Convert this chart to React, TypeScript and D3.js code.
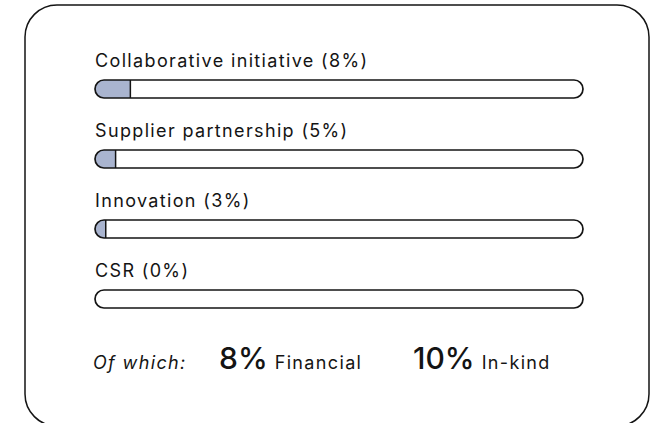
import React, { useEffect, useRef } from 'react';
import * as d3 from 'd3';

const categories = ['Collaborative initiative', 'Supplier partnership', 'Innovation', 'CSR'];
const shares = [8, 5, 3, 0];
const summaryLabels = ['Financial', 'In-kind'];
const summaryValues = [8, 10];

const WIDTH = 651;
const HEIGHT = 423;

export default function App() {
  const ref = useRef<SVGSVGElement>(null);

  useEffect(() => {
    const svg = d3.select(ref.current);
    svg.selectAll('*').remove();

    const font = 'Inter, "Noto Sans", sans-serif';
    const ink = '#141414';
    const barLeft = 95;
    const barRight = 583;
    const barH = 18;
    const barTop = 28;
    const labelSize = 18;
    const spacing = 1.35;

    // card outline
    svg
      .append('rect')
      .attr('x', 25)
      .attr('y', 5)
      .attr('width', 624)
      .attr('height', 421)
      .attr('rx', 32)
      .attr('fill', '#fff')
      .attr('stroke', ink)
      .attr('stroke-width', 1.5);

    // fill runs from slightly behind the rounded end, clipped by the track
    const x = d3.scaleLinear().domain([0, 100]).range([barLeft - 4, barRight]);
    const y = d3
      .scaleBand<string>()
      .domain(categories)
      .range([52, 332])
      .paddingInner(0);

    const rowData = categories.map((c, i) => ({ c, v: shares[i], i }));

    // one clip in row-local coordinates, shared by every row
    svg
      .append('defs')
      .append('clipPath')
      .attr('id', 'track-clip')
      .append('rect')
      .attr('x', barLeft)
      .attr('y', barTop)
      .attr('width', barRight - barLeft)
      .attr('height', barH)
      .attr('rx', barH / 2);

    const rows = svg
      .selectAll('g.row')
      .data(rowData)
      .enter()
      .append('g')
      .attr('class', 'row')
      .attr('transform', d => `translate(0,${y(d.c)})`);

    rows
      .append('text')
      .attr('x', barLeft)
      .attr('y', 15)
      .attr('font-family', font)
      .attr('font-size', labelSize)
      .attr('letter-spacing', spacing)
      .attr('fill', ink)
      .text(d => `${d.c} (${d.v}%)`);

    rows
      .append('rect')
      .attr('x', x(0))
      .attr('y', barTop)
      .attr('width', d => x(d.v) - x(0))
      .attr('height', barH)
      .attr('clip-path', 'url(#track-clip)')
      .attr('fill', '#a9b4cf');

    rows
      .filter(d => d.v > 0)
      .append('line')
      .attr('x1', d => x(d.v))
      .attr('x2', d => x(d.v))
      .attr('y1', barTop)
      .attr('y2', barTop + barH)
      .attr('stroke', ink)
      .attr('stroke-width', 1.5);

    rows
      .append('rect')
      .attr('x', barLeft)
      .attr('y', barTop)
      .attr('width', barRight - barLeft)
      .attr('height', barH)
      .attr('rx', barH / 2)
      .attr('fill', 'none')
      .attr('stroke', ink)
      .attr('stroke-width', 1.7);

    /* ------- SUMMARY ROW ------- */
    const baseY = 369;
    svg
      .append('text')
      .attr('x', 93)
      .attr('y', baseY)
      .attr('font-family', font)
      .attr('font-style', 'italic')
      .attr('font-size', labelSize)
      .attr('letter-spacing', spacing)
      .attr('fill', ink)
      .text('Of which:');

    const starts = [219, 413];
    summaryValues.forEach((v, i) => {
      const t = svg
        .append('text')
        .attr('x', starts[i])
        .attr('y', baseY)
        .attr('font-family', font)
        .attr('fill', ink);
      t.append('tspan')
        .attr('font-size', 30)
        .attr('font-weight', 500)
        .text(`${v}%`);
      t.append('tspan')
        .attr('dx', 7)
        .attr('font-size', labelSize)
        .attr('letter-spacing', spacing)
        .text(summaryLabels[i]);
    });
  }, []);

  return (
    <svg
      ref={ref}
      width={WIDTH}
      height={HEIGHT}
      style={{ position: 'absolute', left: 0, top: 0, background: '#fff' }}
    />
  );
}
